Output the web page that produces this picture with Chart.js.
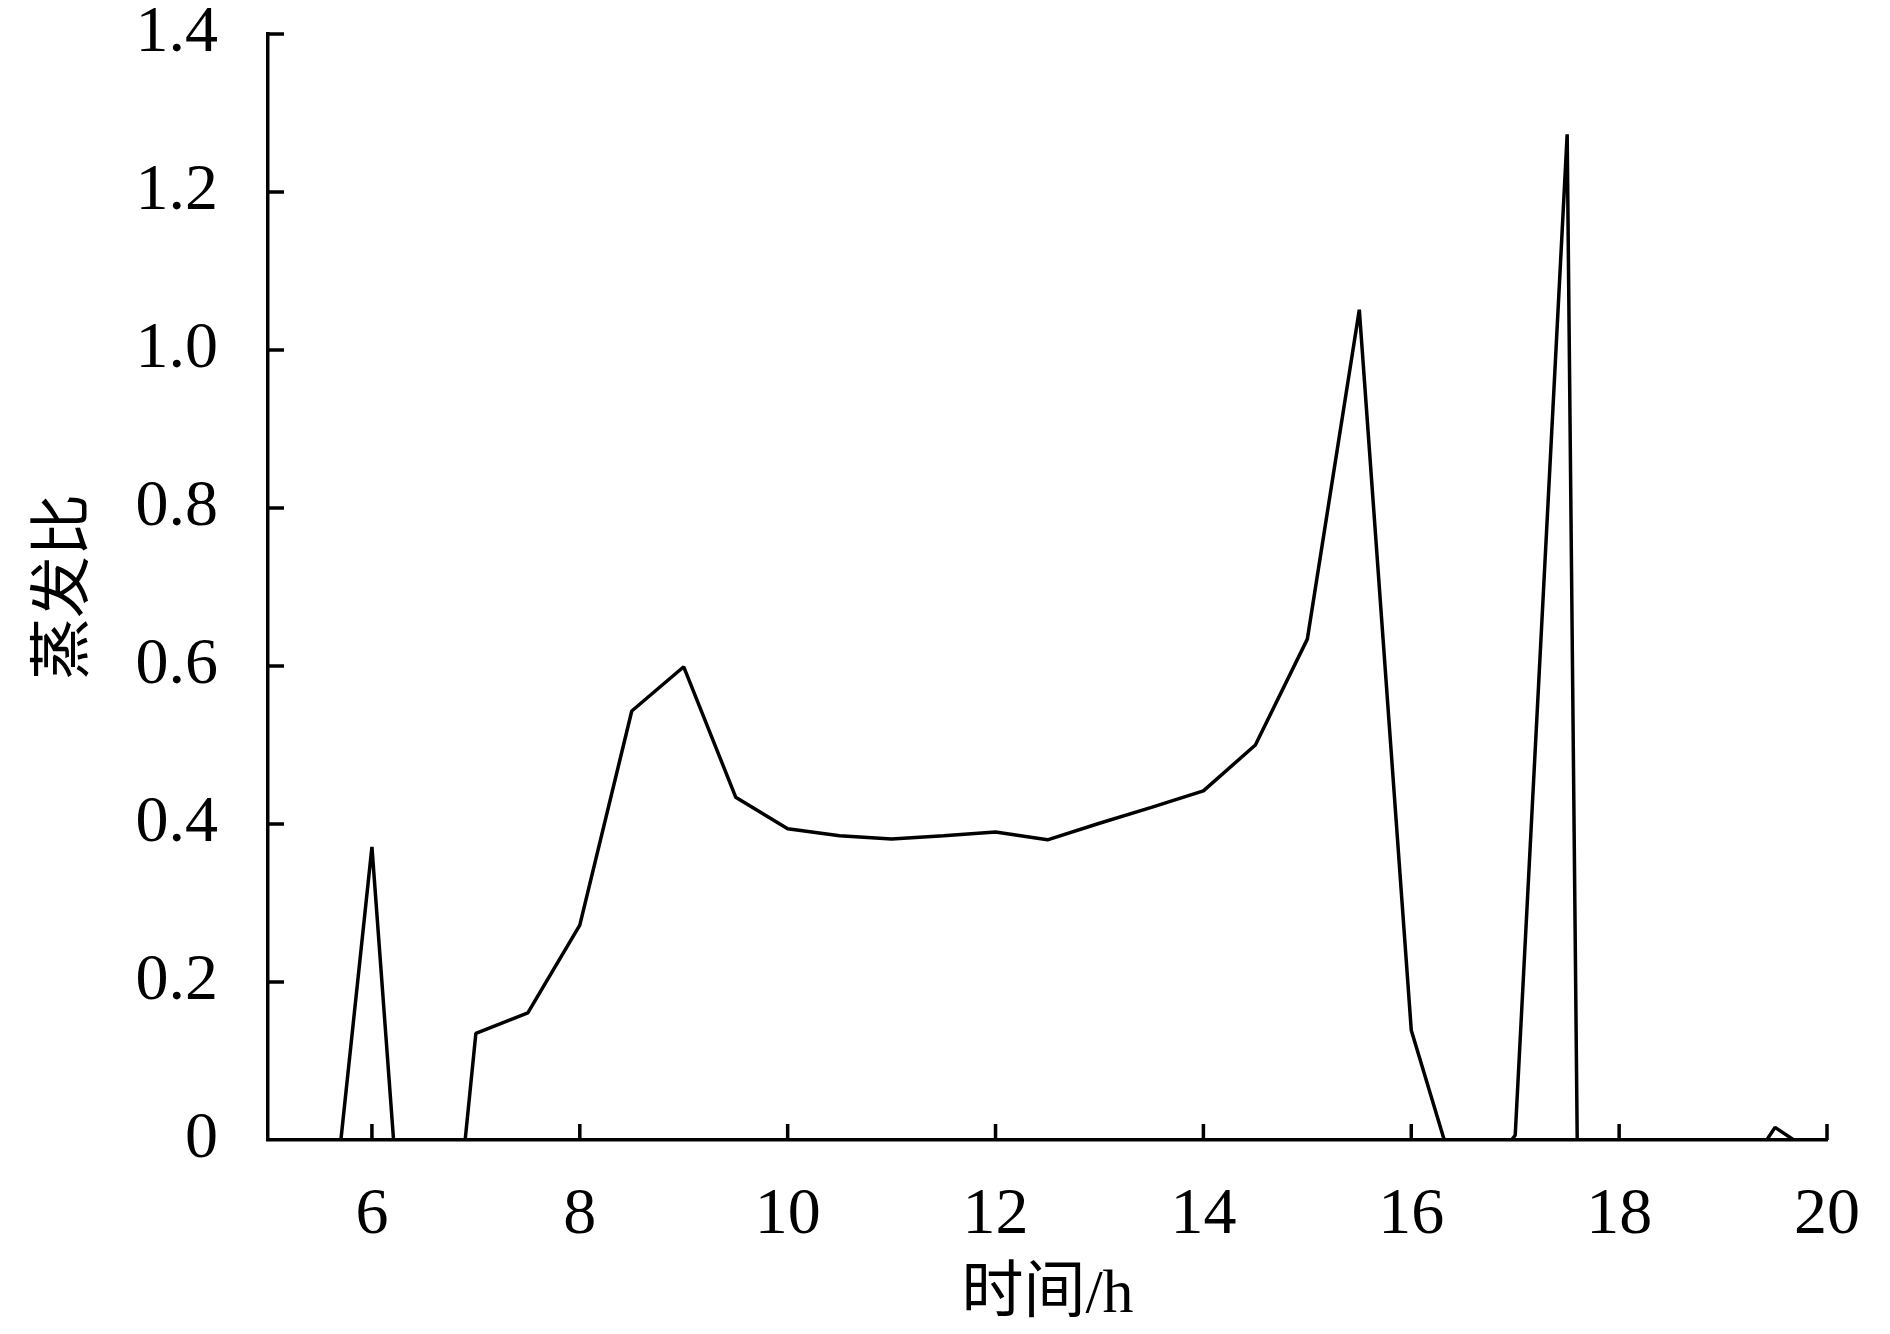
<!DOCTYPE html>
<html>
<head>
<meta charset="utf-8">
<script src="https://cdn.jsdelivr.net/npm/chart.js@4/dist/chart.umd.min.js"></script>
<style>
    html, body { margin: 0; padding: 0; background: #fff; }
    #wrap { width: 1890px; height: 1334px; }
</style>
</head>
<body>
<div id="wrap"><canvas id="evapChart" width="1890" height="1334"></canvas></div>
<script>
// 时间 (h) 与 蒸发比
const hours = [5, 5.5, 6, 6.5, 7, 7.5, 8, 8.5, 9, 9.5, 10, 10.5, 11, 11.5, 12, 12.5,
    13, 13.5, 14, 14.5, 15, 15.5, 16, 16.5, 17, 17.5, 18, 18.5, 19, 19.5, 20];
const evapRatio = [-0.30, -0.25, 0.371, -0.52, 0.135, 0.161, 0.272, 0.543, 0.599, 0.434,
    0.394, 0.385, 0.381, 0.385, 0.390, 0.380, 0.401, 0.421, 0.442, 0.500, 0.634, 1.051,
    0.139, -0.08, 0.006, 1.273, -5.3, -0.5, -0.084, 0.016, -0.028];
const xTicks = [6, 8, 10, 12, 14, 16, 18, 20];
const yTicks = [0, 0.2, 0.4, 0.6, 0.8, 1.0, 1.2, 1.4];

const serif = "'Liberation Serif', 'Noto Sans CJK SC', serif";

// ticks drawn inward from the axes
const innerTicks = {
    id: "innerTicks",
    afterDraw(chart) {
        const ctx = chart.ctx;
        const x = chart.scales.x, y = chart.scales.y;
        const len = 16;
        ctx.save();
        ctx.strokeStyle = "#000";
        ctx.lineWidth = 3.5;
        ctx.beginPath();
        xTicks.forEach(v => {
            const px = x.getPixelForValue(v);
            ctx.moveTo(px, y.bottom);
            ctx.lineTo(px, y.bottom - len);
        });
        yTicks.forEach(v => {
            if (v === 0) return;
            const py = y.getPixelForValue(v);
            ctx.moveTo(x.left, py);
            ctx.lineTo(x.left + len, py);
        });
        ctx.stroke();
        ctx.restore();
    }
};

new Chart(document.getElementById("evapChart").getContext("2d"), {
    type: "line",
    data: {
        labels: hours,
        datasets: [{
            data: hours.map((h, i) => ({ x: h, y: evapRatio[i] })),
            borderColor: "#000",
            borderWidth: 3.5,
            borderJoinStyle: "bevel",
            pointRadius: 0,
            tension: 0,
            fill: false,
            clip: 0
        }]
    },
    options: {
        responsive: false,
        animation: false,
        layout: { padding: { top: 34, right: 63, left: 0, bottom: 0 } },
        plugins: { legend: { display: false }, tooltip: { enabled: false } },
        scales: {
            x: {
                type: "linear",
                min: 5,
                max: 20,
                afterBuildTicks: s => { s.ticks = xTicks.map(v => ({ value: v })); },
                afterFit: s => {
                    s.height = 194;
                    s.paddingLeft = 0;
                    s.paddingRight = 0;
                },
                grid: { display: false, drawTicks: false },
                border: { display: true, color: "#000", width: 3.5 },
                ticks: {
                    color: "#000",
                    font: { family: serif, size: 66 },
                    padding: 36,
                    maxRotation: 0
                },
                title: {
                    display: true,
                    text: "时间/h",
                    color: "#000",
                    font: { family: serif, size: 62 },
                    padding: { top: 0, bottom: 1 }
                }
            },
            y: {
                min: 0,
                max: 1.4,
                afterBuildTicks: s => { s.ticks = yTicks.map(v => ({ value: v })); },
                afterFit: s => {
                    s.width = 268;
                    s.paddingTop = 0;
                    s.paddingBottom = 0;
                },
                grid: { display: false, drawTicks: false },
                border: { display: true, color: "#000", width: 3.5 },
                ticks: {
                    color: "#000",
                    font: { family: serif, size: 66 },
                    padding: 50,
                    callback: v => (v === 0 ? "0" : v.toFixed(1))
                },
                title: {
                    display: true,
                    text: "蒸发比",
                    color: "#000",
                    font: { family: serif, size: 62 },
                    padding: { top: 30, bottom: 0 }
                }
            }
        }
    },
    plugins: [innerTicks]
});
</script>
</body>
</html>
